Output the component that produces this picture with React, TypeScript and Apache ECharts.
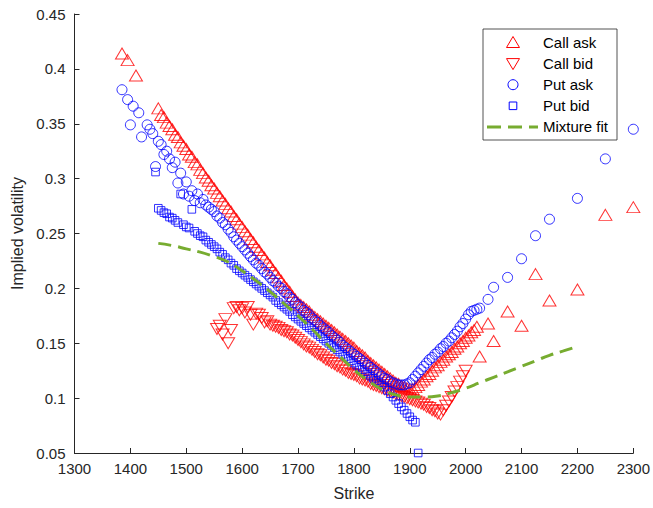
import React, { useEffect, useRef } from "react";
import * as echarts from "echarts";

// ---- data ----
const callAskStrike = [
  1385, 1395, 1410,
  1450, 1455, 1460, 1465, 1470, 1475, 1480, 1485, 1490, 1495,
  1500, 1505, 1510, 1515, 1520, 1525, 1530, 1535, 1540, 1545,
  1550, 1555, 1560, 1565, 1570, 1575, 1580, 1585, 1590, 1595,
  1600, 1605, 1610, 1615, 1620, 1625, 1630, 1635, 1640, 1645,
  1650, 1655, 1660, 1665, 1670, 1675, 1680, 1685, 1690, 1695,
  1700, 1705, 1710, 1715, 1720, 1725, 1730, 1735, 1740, 1745,
  1750, 1755, 1760, 1765, 1770, 1775, 1780, 1785, 1790, 1795,
  1800, 1805, 1810, 1815, 1820, 1825, 1830, 1835, 1840, 1845,
  1850, 1855, 1860, 1865, 1870, 1875, 1880, 1885, 1890, 1895,
  1900, 1905, 1910, 1915, 1920, 1925, 1930, 1935, 1940, 1945,
  1950, 1955, 1960, 1965, 1970, 1975, 1980, 1985, 1990, 1995,
  2000, 2005, 2010, 2015, 2020,
  2025, 2040, 2050, 2075, 2100, 2125, 2150, 2200, 2250, 2300,
];
const callAskVol = [
  0.414, 0.408, 0.394,
  0.364, 0.358, 0.356, 0.351, 0.348, 0.345, 0.340, 0.338, 0.333, 0.330,
  0.327, 0.322, 0.320, 0.315, 0.313, 0.308, 0.305, 0.301, 0.298, 0.294,
  0.291, 0.287, 0.284, 0.280, 0.277, 0.273, 0.270, 0.266, 0.263, 0.259,
  0.256, 0.252, 0.249, 0.245, 0.242, 0.238, 0.235, 0.231, 0.228, 0.224,
  0.221, 0.217, 0.214, 0.210, 0.207, 0.203, 0.200, 0.197, 0.193, 0.190,
  0.187, 0.185, 0.183, 0.181, 0.179, 0.176, 0.174, 0.172, 0.170, 0.168,
  0.166, 0.164, 0.162, 0.160, 0.158, 0.156, 0.154, 0.152, 0.150, 0.148,
  0.146, 0.143, 0.141, 0.139, 0.137, 0.134, 0.132, 0.130, 0.128, 0.126,
  0.124, 0.122, 0.120, 0.118, 0.116, 0.114, 0.113, 0.111, 0.110, 0.109,
  0.108, 0.108, 0.110, 0.112, 0.115, 0.117, 0.120, 0.122, 0.125, 0.128,
  0.130, 0.133, 0.135, 0.138, 0.140, 0.142, 0.145, 0.147, 0.150, 0.152,
  0.155, 0.157, 0.160, 0.162, 0.165,
  0.138, 0.168, 0.152, 0.179, 0.166, 0.213, 0.189, 0.199, 0.267, 0.274,
];

const callBidStrike = [
  1555, 1560, 1565, 1570, 1575, 1580, 1585, 1590, 1595, 1600,
  1605, 1610, 1615, 1620, 1625, 1630, 1635, 1640, 1645, 1650,
  1655, 1660, 1665, 1670, 1675, 1680, 1685, 1690, 1695, 1700,
  1705, 1710, 1715, 1720, 1725, 1730, 1735, 1740, 1745, 1750,
  1755, 1760, 1765, 1770, 1775, 1780, 1785, 1790, 1795, 1800,
  1805, 1810, 1815, 1820, 1825, 1830, 1835, 1840, 1845, 1850,
  1855, 1860, 1865, 1870, 1875, 1880, 1885, 1890, 1895, 1900,
  1905, 1910, 1915, 1920, 1925, 1930, 1935, 1940, 1945, 1950,
  1955, 1960, 1965, 1970, 1975, 1980, 1985, 1990, 1995, 2000,
];
const callBidVol = [
  0.163, 0.166, 0.158, 0.172, 0.150, 0.162, 0.182, 0.183, 0.180, 0.182,
  0.178, 0.183, 0.176, 0.167, 0.177, 0.176, 0.173, 0.169, 0.170, 0.167,
  0.166, 0.165, 0.164, 0.162, 0.161, 0.160, 0.158, 0.157, 0.155, 0.153,
  0.151, 0.149, 0.147, 0.146, 0.144, 0.142, 0.140, 0.139, 0.137, 0.135,
  0.134, 0.132, 0.131, 0.129, 0.128, 0.126, 0.125, 0.123, 0.122, 0.121,
  0.120, 0.118, 0.117, 0.116, 0.115, 0.113, 0.112, 0.111, 0.110, 0.109,
  0.108, 0.107, 0.106, 0.105, 0.104, 0.103, 0.102, 0.101, 0.100, 0.099,
  0.098, 0.097, 0.096, 0.095, 0.094, 0.092, 0.091, 0.089, 0.088, 0.086,
  0.085, 0.089, 0.093, 0.097, 0.101, 0.106, 0.110, 0.115, 0.120, 0.125,
];

const putAskStrike = [
  1385, 1395, 1400, 1405, 1415, 1420, 1430, 1435, 1440, 1445,
  1450, 1455, 1460, 1465, 1470, 1475, 1480, 1485, 1490, 1495,
  1500, 1505, 1510, 1515, 1520, 1525, 1530, 1535, 1540, 1545,
  1550, 1555, 1560, 1565, 1570, 1575, 1580, 1585, 1590, 1595,
  1600, 1605, 1610, 1615, 1620, 1625, 1630, 1635, 1640, 1645,
  1650, 1655, 1660, 1665, 1670, 1675, 1680, 1685, 1690, 1695,
  1700, 1705, 1710, 1715, 1720, 1725, 1730, 1735, 1740, 1745,
  1750, 1755, 1760, 1765, 1770, 1775, 1780, 1785, 1790, 1795,
  1800, 1805, 1810, 1815, 1820, 1825, 1830, 1835, 1840, 1845,
  1850, 1855, 1860, 1865, 1870, 1875, 1880, 1885, 1890, 1895,
  1900, 1905, 1910, 1915, 1920, 1925, 1930, 1935, 1940, 1945,
  1950, 1955, 1960, 1965, 1970, 1975, 1980, 1985, 1990, 1995,
  2000, 2005, 2010, 2015, 2020,
  2025, 2040, 2050, 2075, 2100, 2125, 2150, 2200, 2250, 2300,
];
const putAskVol = [
  0.381, 0.372, 0.349, 0.366, 0.360, 0.338, 0.349, 0.345, 0.341, 0.311,
  0.334, 0.331, 0.322, 0.325, 0.318, 0.310, 0.315, 0.296, 0.305, 0.286,
  0.297, 0.284, 0.289, 0.280, 0.286, 0.278, 0.281, 0.276, 0.274, 0.272,
  0.270, 0.266, 0.264, 0.260, 0.258, 0.254, 0.251, 0.247, 0.244, 0.241,
  0.238, 0.235, 0.232, 0.229, 0.226, 0.223, 0.221, 0.218, 0.215, 0.213,
  0.210, 0.207, 0.205, 0.202, 0.200, 0.197, 0.195, 0.192, 0.190, 0.187,
  0.185, 0.183, 0.180, 0.178, 0.176, 0.173, 0.171, 0.169, 0.166, 0.164,
  0.162, 0.160, 0.157, 0.155, 0.153, 0.151, 0.148, 0.146, 0.144, 0.142,
  0.140, 0.138, 0.136, 0.134, 0.132, 0.130, 0.128, 0.126, 0.124, 0.122,
  0.120, 0.118, 0.117, 0.115, 0.114, 0.113, 0.112, 0.112, 0.112, 0.113,
  0.114, 0.117, 0.120, 0.123, 0.126, 0.129, 0.132, 0.135, 0.137, 0.140,
  0.142, 0.145, 0.147, 0.150, 0.152, 0.155, 0.158, 0.161, 0.165, 0.168,
  0.172, 0.176, 0.179, 0.180, 0.181,
  0.182, 0.190, 0.201, 0.210, 0.227, 0.248, 0.263, 0.282, 0.318, 0.345,
];

const putBidStrike = [
  1445,
  1450, 1455, 1460, 1465, 1470, 1475, 1480, 1485, 1490, 1495,
  1500, 1505, 1510, 1515, 1520, 1525, 1530, 1535, 1540, 1545,
  1550, 1555, 1560, 1565, 1570, 1575, 1580, 1585, 1590, 1595,
  1600, 1605, 1610, 1615, 1620, 1625, 1630, 1635, 1640, 1645,
  1650, 1655, 1660, 1665, 1670, 1675, 1680, 1685, 1690, 1695,
  1700, 1705, 1710, 1715, 1720, 1725, 1730, 1735, 1740, 1745,
  1750, 1755, 1760, 1765, 1770, 1775, 1780, 1785, 1790, 1795,
  1800, 1805, 1810, 1815, 1820, 1825, 1830, 1835, 1840, 1845,
  1850, 1855, 1860, 1865, 1870, 1875, 1880, 1885, 1890, 1895,
  1900, 1905, 1910, 1915,
];
const putBidVol = [
  0.306,
  0.273, 0.271, 0.269, 0.268, 0.265, 0.264, 0.262, 0.260, 0.286, 0.258,
  0.256, 0.255, 0.272, 0.252, 0.250, 0.248, 0.247, 0.244, 0.242, 0.240,
  0.238, 0.236, 0.233, 0.231, 0.228, 0.226, 0.223, 0.221, 0.218, 0.216,
  0.214, 0.212, 0.210, 0.208, 0.206, 0.204, 0.202, 0.200, 0.198, 0.196,
  0.194, 0.192, 0.189, 0.187, 0.185, 0.183, 0.181, 0.179, 0.176, 0.174,
  0.172, 0.170, 0.168, 0.166, 0.164, 0.162, 0.160, 0.158, 0.156, 0.154,
  0.152, 0.150, 0.148, 0.146, 0.144, 0.142, 0.140, 0.138, 0.136, 0.134,
  0.132, 0.130, 0.128, 0.126, 0.124, 0.122, 0.120, 0.118, 0.116, 0.114,
  0.112, 0.110, 0.107, 0.104, 0.101, 0.098, 0.095, 0.092, 0.089, 0.086,
  0.083, 0.080, 0.078, 0.050,
];

const fitStrike = [
  1450, 1475, 1500, 1525, 1550, 1575, 1600, 1625, 1650, 1675,
  1700, 1725, 1750, 1775, 1800, 1825, 1850, 1875, 1900, 1925,
  1950, 1975, 2000, 2025, 2050, 2075, 2100, 2125, 2150, 2175, 2200,
];
const fitVol = [
  0.241, 0.239, 0.236, 0.233, 0.229, 0.224, 0.216, 0.207, 0.197, 0.186,
  0.175, 0.163, 0.150, 0.138, 0.126, 0.116, 0.108, 0.103, 0.101, 0.101,
  0.102, 0.105, 0.109, 0.114, 0.119, 0.124, 0.129, 0.134, 0.139, 0.143, 0.147,
];

const seriesNames = ["Call ask", "Call bid", "Put ask", "Put bid", "Mixture fit"];
const xTitle = "Strike";
const yTitle = "Implied volatility";

const RED = "#FF0000";
const BLUE = "#0000FF";
const GREEN = "#77AC30";
const AXIS = "#262626";
const FONT = '"Liberation Sans", Arial, sans-serif';

const zip = (xs: number[], ys: number[]) => xs.map((x, i) => [x, ys[i]]);

export default function App() {
  const ref = useRef<HTMLDivElement>(null);

  useEffect(() => {
    if (!ref.current) return;
    const chart = echarts.init(ref.current, undefined, { renderer: "svg" });

    const hollow = (c: string, w = 1) => ({
      color: "rgba(0,0,0,0)",
      borderColor: c,
      borderWidth: w,
    });

    // legend (drawn as graphic elements to mimic MATLAB legend box)
    const lx = 483, ly = 29, lw = 134, lh = 111;
    const mx = 513;
    const rows = [42.5, 63.6, 84.7, 105.8, 126.9];
    const textEl = (t: string, y: number) => ({
      type: "text",
      x: 543,
      y,
      style: {
        text: t,
        fill: "#000",
        fontSize: 15,
        fontFamily: FONT,
        align: "left",
        verticalAlign: "middle",
        textAlign: "left",
        textVerticalAlign: "middle",
      },
      silent: true,
    });

    const legendGraphics: any[] = [
      {
        type: "rect",
        shape: { x: lx, y: ly, width: lw, height: lh },
        style: { fill: "#fff", stroke: AXIS, lineWidth: 0.8 },
        silent: true,
      },
      {
        type: "polygon",
        shape: { points: [[mx, rows[0] - 6], [mx + 6.5, rows[0] + 5], [mx - 6.5, rows[0] + 5]] },
        style: { fill: "none", stroke: RED, lineWidth: 1 },
        silent: true,
      },
      {
        type: "polygon",
        shape: { points: [[mx - 6.5, rows[1] - 5], [mx + 6.5, rows[1] - 5], [mx, rows[1] + 6]] },
        style: { fill: "none", stroke: RED, lineWidth: 1 },
        silent: true,
      },
      {
        type: "circle",
        shape: { cx: mx, cy: rows[2], r: 5 },
        style: { fill: "none", stroke: BLUE, lineWidth: 1 },
        silent: true,
      },
      {
        type: "rect",
        shape: { x: mx - 3.8, y: rows[3] - 3.8, width: 7.6, height: 7.6 },
        style: { fill: "none", stroke: BLUE, lineWidth: 1 },
        silent: true,
      },
      {
        type: "line",
        shape: { x1: 487, y1: rows[4], x2: 538, y2: rows[4] },
        style: { stroke: GREEN, lineWidth: 3, lineDash: [14, 7] },
        silent: true,
      },
      textEl(seriesNames[0], rows[0]),
      textEl(seriesNames[1], rows[1]),
      textEl(seriesNames[2], rows[2]),
      textEl(seriesNames[3], rows[3]),
      textEl(seriesNames[4], rows[4]),
    ];

    chart.setOption({
      animation: false,
      backgroundColor: "#fff",
      grid: { left: 74.5, right: 19, top: 14, bottom: 55, containLabel: false },
      xAxis: {
        type: "value",
        min: 1300,
        max: 2300,
        interval: 100,
        name: xTitle,
        nameLocation: "middle",
        nameGap: 32,
        nameTextStyle: { color: AXIS, fontSize: 16, fontFamily: FONT },
        axisLine: { show: true, lineStyle: { color: AXIS, width: 1 } },
        axisTick: { show: true, inside: true, length: 5, lineStyle: { color: AXIS } },
        axisLabel: {
          color: AXIS,
          fontSize: 15,
          fontFamily: FONT,
          margin: 8,
          formatter: (v: number) => String(Math.round(v)),
        },
        splitLine: { show: false },
      },
      yAxis: {
        type: "value",
        min: 0.05,
        max: 0.45,
        interval: 0.05,
        name: yTitle,
        nameLocation: "middle",
        nameGap: 46,
        nameRotate: 90,
        nameTextStyle: { color: AXIS, fontSize: 16, fontFamily: FONT },
        axisLine: { show: true, lineStyle: { color: AXIS, width: 1 } },
        axisTick: { show: true, inside: true, length: 5, lineStyle: { color: AXIS } },
        axisLabel: {
          color: AXIS,
          fontSize: 15,
          fontFamily: FONT,
          margin: 9,
          formatter: (v: number) => String(parseFloat(v.toFixed(2))),
        },
        splitLine: { show: false },
      },
      series: [
        {
          name: seriesNames[0],
          type: "scatter",
          data: zip(callAskStrike, callAskVol),
          symbol: "triangle",
          symbolSize: [13, 11],
          itemStyle: hollow(RED),
          silent: true,
        },
        {
          name: seriesNames[1],
          type: "scatter",
          data: zip(callBidStrike, callBidVol),
          symbol: "triangle",
          symbolRotate: 180,
          symbolSize: [13, 11],
          itemStyle: hollow(RED),
          silent: true,
        },
        {
          name: seriesNames[2],
          type: "scatter",
          data: zip(putAskStrike, putAskVol),
          symbol: "circle",
          symbolSize: 10,
          itemStyle: hollow(BLUE),
          silent: true,
        },
        {
          name: seriesNames[3],
          type: "scatter",
          data: zip(putBidStrike, putBidVol),
          symbol: "rect",
          symbolSize: 7.6,
          itemStyle: hollow(BLUE),
          silent: true,
        },
        {
          name: seriesNames[4],
          type: "line",
          data: zip(fitStrike, fitVol),
          showSymbol: false,
          smooth: true,
          lineStyle: { color: GREEN, width: 3, type: [13, 7] },
          itemStyle: { color: GREEN },
          silent: true,
          z: 5,
        },
      ],
      graphic: legendGraphics,
    });

    return () => chart.dispose();
  }, []);

  return (
    <div
      ref={ref}
      style={{ position: "absolute", left: 0, top: 0, width: 653, height: 508 }}
    />
  );
}
